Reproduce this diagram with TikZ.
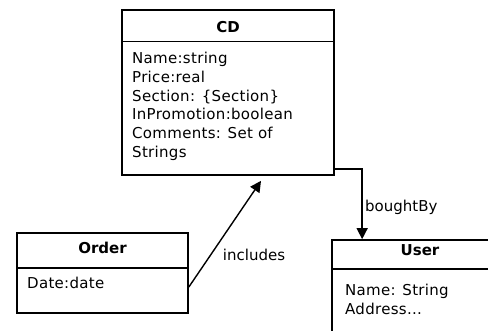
\documentclass[tikz,border=0pt]{standalone}
\usepackage{fontspec}
\setmainfont{DejaVu Sans}
\newfontfamily\attrfont[LetterSpace=2]{DejaVu Sans}
\usetikzlibrary{arrows.meta}
\begin{document}
\begin{tikzpicture}[x=1pt,y=-1pt,
  box/.style={draw,line width=1.7pt,rectangle,inner sep=0pt},
  sep/.style={line width=1.7pt},
  ttl/.style={font=\fontsize{15}{18}\selectfont\bfseries,inner sep=0pt},
  attr/.style={font=\attrfont\fontsize{15}{18.7}\selectfont,align=left,anchor=north west,inner sep=0pt},
  lbl/.style={font=\fontsize{15}{18}\selectfont,inner sep=0pt},
  arr/.style={line width=1.4pt,-{Triangle[length=11pt,width=11pt]}}]
\useasboundingbox (0,0) rectangle (488,330);
% CD
\node[box,minimum width=212pt,minimum height=165pt] (cd) at (228,92.5) {};
\draw[sep] (122,41.5) -- (334,41.5);
\node[ttl] (cdt) at (228,27) {CD};
\node[attr] (cda) at (132,52) {Name:string\\Price:real\\Section: \{Section\}\\InPromotion:boolean\\Comments: Set of\\Strings};
% Order
\node[box,minimum width=171pt,minimum height=80pt] (order) at (102.5,273) {};
\draw[sep] (17,268) -- (188,268);
\node[ttl] (ordert) at (102.5,248) {Order};
\node[attr] (ordera) at (27,277) {Date:date};
% User (clipped)
\begin{scope}
\clip (0,0) rectangle (488,330);
\node[box,minimum width=180pt,minimum height=110pt] (user) at (422,295) {};
\draw[sep] (332,269) -- (490,269);
\end{scope}
\node[ttl] (usert) at (420,250) {User};
\node[attr] (usera) at (345,284) {Name: String\\Address...};
% connectors
\draw[arr] ([yshift=7pt]cd.south east) -| ([xshift=31pt]user.north west);
\node[lbl,anchor=west] (bb) at (365,207) {boughtBy};
\draw[arr] ([yshift=-14pt]order.east) -- ([xshift=33pt,yshift=-5pt]cd.south);
\node[lbl] (inc) at (254,255) {includes};
\end{tikzpicture}
\end{document}
